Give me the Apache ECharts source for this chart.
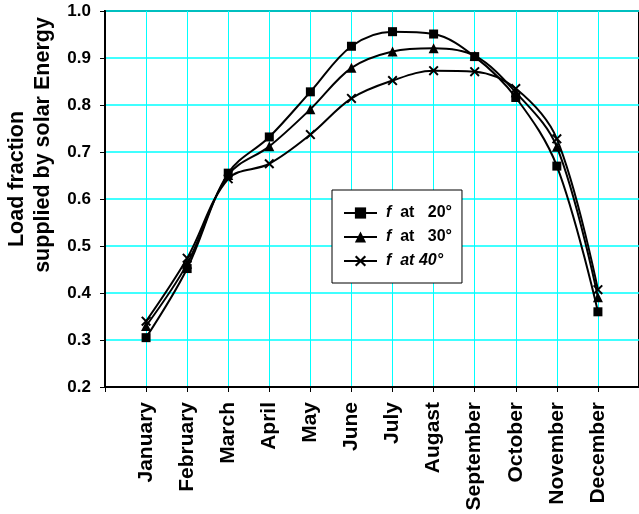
<!DOCTYPE html>
<html>
<head>
<meta charset="utf-8">
<script src="https://cdn.jsdelivr.net/npm/echarts@6/dist/echarts.min.js"></script>
<style>
  html, body { margin: 0; padding: 0; background: #fff; }
  #chart { width: 639px; height: 514px; }
</style>
</head>
<body>
<div id="chart"></div>
<script>
// Monthly load fraction covered by solar energy for three collector tilts
const months = ['January', 'February', 'March', 'April', 'May', 'June', 'July',
                'Augast', 'September', 'October', 'November', 'December'];
const f20 = [0.305, 0.452, 0.655, 0.732, 0.828, 0.925, 0.956, 0.951, 0.903, 0.816, 0.670, 0.360];
const f30 = [0.330, 0.462, 0.651, 0.712, 0.791, 0.879, 0.914, 0.921, 0.905, 0.827, 0.711, 0.391];
const f40 = [0.340, 0.474, 0.643, 0.675, 0.737, 0.814, 0.852, 0.873, 0.871, 0.835, 0.728, 0.407];
const yTicks = ['0.2', '0.3', '0.4', '0.5', '0.6', '0.7', '0.8', '0.9', '1.0'];
const seriesNames = ['f at 20°', 'f at 30°', 'f at 40°'];

const FONT = '"Liberation Sans", Arial, sans-serif';
const crossPath = 'path://M0,1.4L1.4,0L5,3.6L8.6,0L10,1.4L6.4,5L10,8.6L8.6,10L5,6.4L1.4,10L0,8.6L3.6,5Z';

const toPoints = arr => arr.map((v, i) => [i + 1, v]);

const chart = echarts.init(document.getElementById('chart'), null, { renderer: 'canvas' });

function lineSeries(name, data, symbol, size) {
  return {
    name: name,
    type: 'line',
    data: toPoints(data),
    smooth: 0.35,
    symbol: symbol,
    symbolSize: size,
    showAllSymbol: true,
    lineStyle: { color: '#000', width: 2 },
    itemStyle: { color: '#000' },
    emphasis: { disabled: true },
    z: 3
  };
}

chart.setOption({
  animation: false,
  backgroundColor: '#fff',
  textStyle: { fontFamily: FONT },
  grid: {
    left: 105,
    top: 11,
    width: 536,
    height: 376,
    show: true,
    borderColor: '#000',
    borderWidth: 2,
    backgroundColor: 'transparent'
  },
  xAxis: {
    type: 'value',
    min: 0,
    max: 13,
    interval: 1,
    axisLine: { lineStyle: { color: '#000', width: 2 } },
    axisTick: { show: true, inside: false, length: 5, lineStyle: { color: '#000', width: 1 } },
    splitLine: { show: true, lineStyle: { color: '#00FFFF', width: 1 } },
    axisLabel: {
      rotate: 90,
      margin: 15,
      fontFamily: FONT,
      fontWeight: 'bold',
      fontSize: 21,
      color: '#000',
      formatter: v => (v >= 1 && v <= 12) ? months[v - 1] : ''
    }
  },
  yAxis: {
    type: 'value',
    min: 0.2,
    max: 1.0,
    interval: 0.1,
    axisLine: { show: true, lineStyle: { color: '#000', width: 2 } },
    axisTick: { show: true, inside: false, length: 5, lineStyle: { color: '#000', width: 1 } },
    splitLine: { show: true, lineStyle: { color: '#00FFFF', width: 1.5 } },
    axisLabel: {
      margin: 14,
      fontFamily: FONT,
      fontWeight: 'bold',
      fontSize: 17,
      color: '#000',
      formatter: v => yTicks[Math.round((v - 0.2) * 10)]
    }
  },
  legend: {
    orient: 'vertical',
    left: 332,
    top: 190,
    padding: [15, 10, 14, 11],
    itemGap: 8,
    itemWidth: 33,
    itemHeight: 14,
    backgroundColor: '#fff',
    borderColor: '#000',
    borderWidth: 1,
    data: seriesNames,
    formatter: function (name) {
      if (name === seriesNames[0]) return '{i|f}{n|  at   20°}';
      if (name === seriesNames[1]) return '{i|f}{n|  at   30°}';
      return '{i|f}{j|  at 40°}';
    },
    textStyle: {
      fontFamily: FONT,
      fontWeight: 'bold',
      fontSize: 16,
      color: '#000',
      rich: {
        i: { fontFamily: FONT, fontWeight: 'bold', fontStyle: 'italic', fontSize: 16, color: '#000', padding: [0, 0, 0, 4] },
        j: { fontFamily: FONT, fontWeight: 'bold', fontStyle: 'italic', fontSize: 16, color: '#000' },
        n: { fontFamily: FONT, fontWeight: 'bold', fontSize: 16, color: '#000' }
      }
    }
  },
  graphic: [
    {
      type: 'text',
      x: 17,
      y: 179,
      rotation: Math.PI / 2,
      style: {
        text: 'Load fraction',
        font: 'bold 21.5px ' + FONT,
        fill: '#000',
        align: 'center',
        verticalAlign: 'middle'
      }
    },
    {
      type: 'text',
      x: 43,
      y: 145,
      rotation: Math.PI / 2,
      style: {
        text: 'supplied by solar Energy',
        font: 'bold 21.5px ' + FONT,
        fill: '#000',
        align: 'center',
        verticalAlign: 'middle'
      }
    }
  ],
  series: [
    lineSeries(seriesNames[0], f20, 'rect', 9),
    lineSeries(seriesNames[1], f30, 'triangle', 10),
    lineSeries(seriesNames[2], f40, crossPath, 10)
  ]
});
</script>
</body>
</html>
